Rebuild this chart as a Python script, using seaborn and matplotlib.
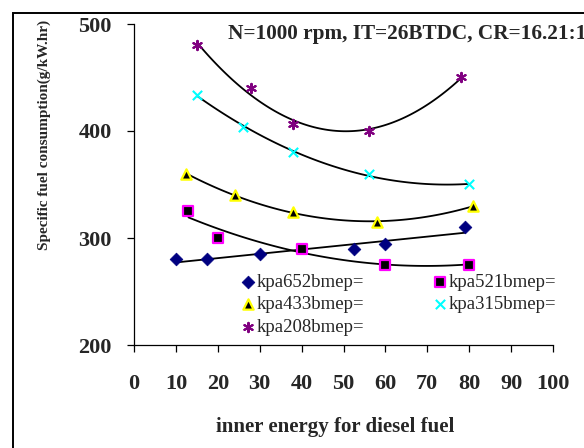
import matplotlib
matplotlib.use("Agg")
import matplotlib.pyplot as plt
import seaborn as sns
import pandas as pd
from matplotlib.patches import Rectangle

# data
x652 = [10, 17.5, 30, 52.5, 60, 79]
y652 = [280, 280, 285, 290, 294, 310]
x521 = [13, 20, 40, 60, 80]
y521 = [325, 300, 290, 275, 275]
x433 = [12.5, 24, 38, 58, 81]
y433 = [360, 340, 324, 315, 330]
x315 = [15, 26, 38, 56, 80]
y315 = [434, 404, 380, 360, 350]
x208 = [15, 28, 38, 56, 78]
y208 = [480, 440, 407, 400, 450]

labels = ["kpa652bmep=", "kpa521bmep=", "kpa433bmep=", "kpa315bmep=", "kpa208bmep="]

sns.set_style("white")
plt.rcParams['font.family'] = ['Liberation Serif', 'DejaVu Serif']

W, H = 584, 448
fig = plt.figure(figsize=(W/100, H/100), dpi=100)
ax = fig.add_axes([134/W, 1-345/H, (553-134)/W, (345-24)/H])

# outer chart frame, runs off the right and bottom edges
frame = Rectangle((13/W, -0.05), 1.0, 1.05 - 13/H, transform=fig.transFigure,
                  fill=False, edgecolor='black', lw=1.4, zorder=10, clip_on=False)
fig.add_artist(frame)

series = [
    (x652, y652, 1, dict(marker='D', s=42, color='#000080', edgecolor='#000080')),
    (x521, y521, 2, dict(marker='s', s=55, color='black', edgecolor='#ff00ff', linewidth=1.6)),
    (x433, y433, 2, dict(marker='^', s=55, color='black', edgecolor='#ffff00', linewidth=1.6)),
    (x315, y315, 2, dict(marker='x', s=45, color='#00ffff', linewidth=1.5)),
    (x208, y208, 2, dict(marker=(6, 2, 0), s=45, color='#800080', linewidth=1.5)),
]

# excel-style trendlines (linear / 2nd order) plus markers
for (xs, ys, order, style), lab in zip(series, labels):
    df = pd.DataFrame({'x': xs, 'y': ys})
    sns.regplot(data=df, x='x', y='y', order=order, ci=None, scatter=False, ax=ax,
                line_kws=dict(color='black', lw=1.3))
    sns.scatterplot(data=df, x='x', y='y', ax=ax, label=lab, zorder=3, **style)

ax.set_xlim(0, 100)
ax.set_ylim(200, 500)
ax.set_xticks(range(0, 101, 10))
ax.set_yticks([200, 300, 400, 500])
ax.set_xlabel("")
ax.set_ylabel("")
for s in ['top', 'right']:
    ax.spines[s].set_visible(False)
for s in ['left', 'bottom']:
    ax.spines[s].set_color('black')
    ax.spines[s].set_linewidth(0.9)
ax.tick_params(axis='both', direction='out', length=5, width=0.9, color='black',
               labelsize=16, left=True, bottom=True)
ax.tick_params(axis='y', pad=11)
ax.tick_params(axis='x', pad=16)
for t in ax.get_xticklabels() + ax.get_yticklabels():
    t.set_fontweight('bold')

# legend filled row by row: 652 521 / 433 315 / 208
h, l = ax.get_legend_handles_labels()
idx = [0, 2, 4, 1, 3]
ax.legend([h[i] for i in idx], [l[i] for i in idx], ncol=2, frameon=False,
          fontsize=13.5, loc='upper left',
          bbox_to_anchor=(240/W, 1-274/H), bbox_transform=fig.transFigure,
          handlelength=0.8, handletextpad=0.1, columnspacing=3.6,
          labelspacing=0.27, borderpad=0, borderaxespad=0, scatterpoints=1)

fig.text(228/W, 1-34/H, "N=1000 rpm, IT=26BTDC, CR=16.21:1", fontsize=15.3,
         fontweight='bold', va='center', ha='left')
fig.text(44/W, 1-135/H, "Specific fuel consumption(g/kW.hr)", rotation=90,
         fontsize=11, fontweight='bold', ha='center', va='center')
fig.text(335/W, 1-427/H, "inner energy for diesel fuel", fontsize=15,
         fontweight='bold', ha='center', va='center')

fig.savefig("out.png", dpi=100)
